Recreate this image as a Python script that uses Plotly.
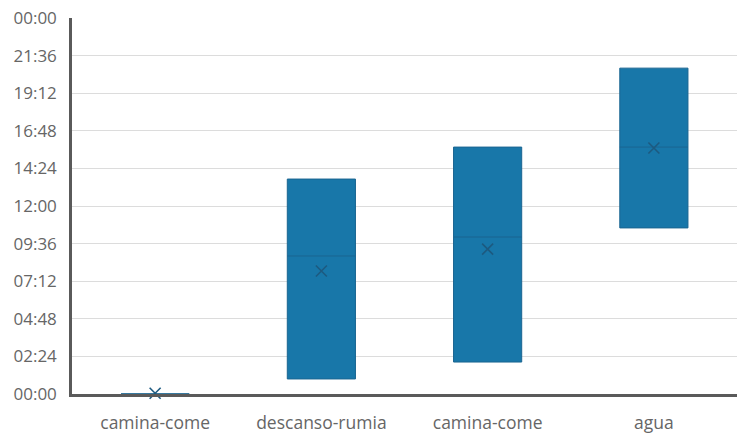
import plotly.graph_objects as go

categories = ["camina-come", "descanso-rumia", "camina-come", "agua"]
q1_hours = [0.0, 0.96, 2.04, 10.6]
median_hours = [0.0, 8.81, 10.02, 15.76]
q3_hours = [0.0, 13.72, 15.76, 20.8]
mean_hours = [0.05, 7.85, 9.25, 15.7]
y_tick_labels = ["00:00", "02:24", "04:48", "07:12", "09:36", "12:00",
                 "14:24", "16:48", "19:12", "21:36", "00:00"]
y_tick_values = [i * 2.4 for i in range(len(y_tick_labels))]

xpos = list(range(len(categories)))

fig = go.Figure()
fig.add_trace(go.Box(
    x=xpos,
    q1=q1_hours,
    median=median_hours,
    q3=q3_hours,
    lowerfence=q1_hours,
    upperfence=q3_hours,
    width=0.41,
    fillcolor="#1877a9",
    line=dict(color="#1a6591", width=1),
    whiskerwidth=0,
    boxpoints=False,
    hoverinfo="skip",
    showlegend=False,
))
fig.add_trace(go.Scatter(
    x=xpos,
    y=mean_hours,
    mode="markers",
    marker=dict(symbol="x-thin", size=11, line=dict(color="#1d5a80", width=1.6)),
    showlegend=False,
    hoverinfo="skip",
    cliponaxis=False,
))

fig.update_layout(
    width=740, height=435,
    margin=dict(l=72, r=3, t=18, b=41),
    paper_bgcolor="white", plot_bgcolor="white",
    font=dict(family="Open Sans, Noto Sans, sans-serif", size=17, color="#595959"),
    xaxis=dict(
        range=[-0.5, 3.5],
        tickvals=xpos, ticktext=categories,
        showgrid=False, zeroline=False,
        showline=True, linecolor="#5a5a5a", linewidth=2.5,
        ticks="", ticklabelstandoff=11, automargin=False,
        tickfont=dict(size=17.5, color="#666666"),
    ),
    yaxis=dict(
        range=[0, 24],
        tickvals=y_tick_values, ticktext=y_tick_labels,
        showgrid=True, gridcolor="#dcdcdc", gridwidth=1,
        zeroline=False, automargin=False,
        showline=True, linecolor="#5a5a5a", linewidth=2.5,
        ticks="", ticklabelstandoff=9,
        tickfont=dict(size=17, color="#666666"),
    ),
)

fig.write_html("out.html")
